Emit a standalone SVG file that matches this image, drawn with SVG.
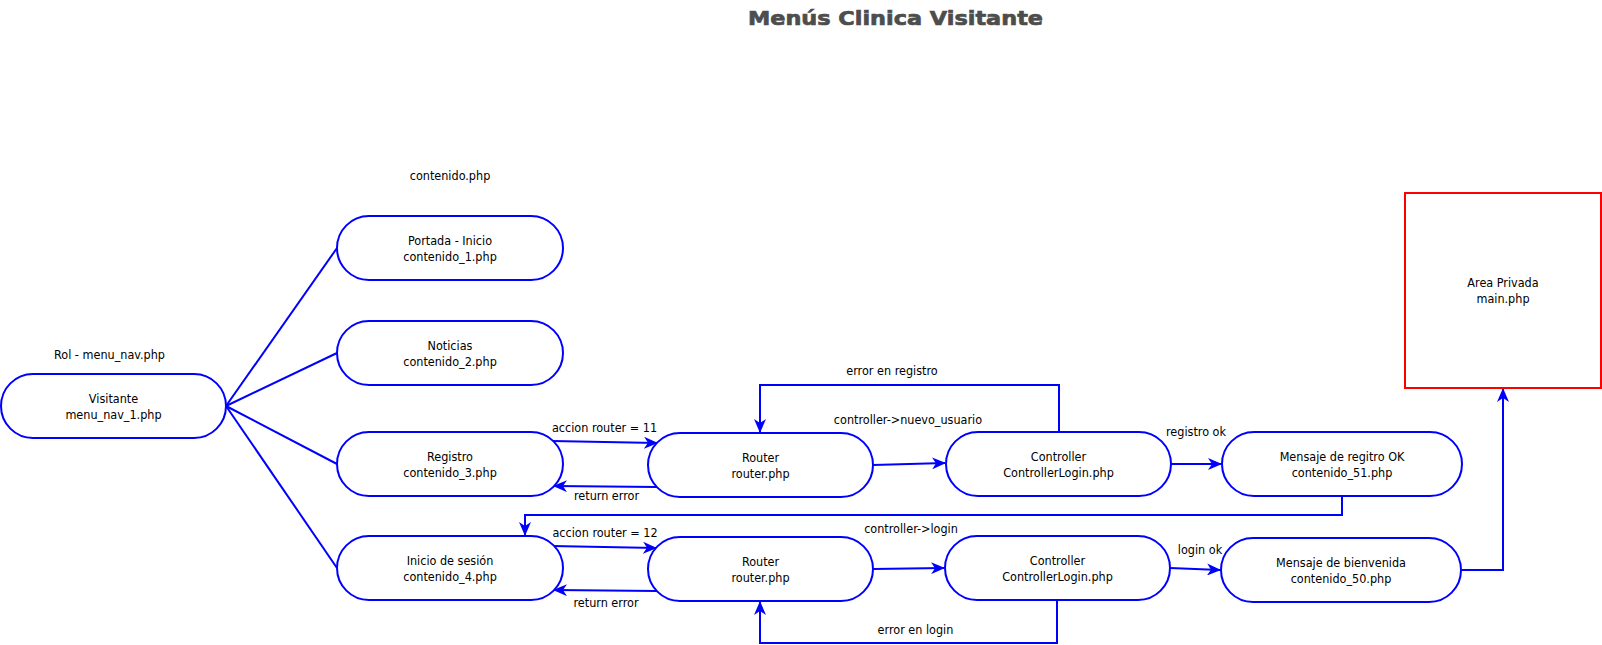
<svg xmlns="http://www.w3.org/2000/svg" width="1602" height="645" viewBox="0 0 1602 645">
<style>
.node{fill:#fff;stroke:#0000FF;stroke-width:2}
.area{fill:#fff;stroke:#FF0000;stroke-width:2}
.t{font-family:"DejaVu Sans Condensed","DejaVu Sans",sans-serif;font-size:12.5px;fill:#000;text-anchor:middle}
.c{fill:none;stroke:#0000FF;stroke-width:2}
.title{font-family:"DejaVu Sans",sans-serif;font-weight:bold;font-size:20px;fill:#4D4D4D;stroke:#4D4D4D;stroke-width:0.7;text-anchor:middle}
</style>
<defs>
<marker id="arr" markerUnits="userSpaceOnUse" markerWidth="14" markerHeight="12" refX="13" refY="6" orient="auto" viewBox="0 0 14 12">
<path d="M0,0 L14,6 L0,12 L4,6 z" fill="#0000FF"/>
</marker>
</defs>
<rect width="1602" height="645" fill="#fff"/>
<text class="title" x="895.5" y="25" textLength="295" lengthAdjust="spacingAndGlyphs">Menús Clinica Visitante</text>
<text class="t" x="450" y="180">contenido.php</text>
<text class="t" x="109.5" y="359">Rol - menu_nav.php</text>

<g id="connectors">
<path class="c" d="M226,406 L337,248"/>
<path class="c" d="M226,406 L337,353"/>
<path class="c" d="M226,406 L337,464"/>
<path class="c" d="M226,406 L337,568"/>
<path class="c" marker-end="url(#arr)" d="M552,441 L657,443"/>
<path class="c" marker-end="url(#arr)" d="M657,487 L554,486"/>
<path class="c" marker-end="url(#arr)" d="M873,465 L945,463"/>
<path class="c" marker-end="url(#arr)" d="M1059,432 L1059,385 L760,385 L760,432"/>
<path class="c" marker-end="url(#arr)" d="M1171,464 L1221,464"/>
<path class="c" marker-end="url(#arr)" d="M1342,496 L1342,515 L525,515 L525,535"/>
<path class="c" marker-end="url(#arr)" d="M552,546 L656,548"/>
<path class="c" marker-end="url(#arr)" d="M657,591 L554,590"/>
<path class="c" marker-end="url(#arr)" d="M873,569 L944,568"/>
<path class="c" marker-end="url(#arr)" d="M1057,600 L1057,643 L760,643 L760,602"/>
<path class="c" marker-end="url(#arr)" d="M1170,568 L1220,570"/>
<path class="c" marker-end="url(#arr)" d="M1461,570 L1503,570 L1503,389"/>
<text class="t" x="604.5" y="432">accion router = 11</text>
<text class="t" x="606.5" y="500">return error</text>
<text class="t" x="892" y="375">error en registro</text>
<text class="t" x="908" y="424">controller-&gt;nuevo_usuario</text>
<text class="t" x="1196" y="436">registro ok</text>
<text class="t" x="605" y="537">accion router = 12</text>
<text class="t" x="606" y="607">return error</text>
<text class="t" x="911" y="533">controller-&gt;login</text>
<text class="t" x="1200" y="554">login ok</text>
<text class="t" x="915.5" y="633.5">error en login</text>
</g>

<g id="visitante">
<rect class="node" x="1" y="374" width="225" height="64" rx="32"/>
<text class="t" x="113.5" y="403">Visitante</text>
<text class="t" x="113.5" y="419">menu_nav_1.php</text>
</g>
<g id="portada">
<rect class="node" x="337" y="216" width="226" height="64" rx="32"/>
<text class="t" x="450" y="245">Portada - Inicio</text>
<text class="t" x="450" y="261">contenido_1.php</text>
</g>
<g id="noticias">
<rect class="node" x="337" y="321" width="226" height="64" rx="32"/>
<text class="t" x="450" y="350">Noticias</text>
<text class="t" x="450" y="366">contenido_2.php</text>
</g>
<g id="registro">
<rect class="node" x="337" y="432" width="226" height="64" rx="32"/>
<text class="t" x="450" y="461">Registro</text>
<text class="t" x="450" y="477">contenido_3.php</text>
</g>
<g id="inicio">
<rect class="node" x="337" y="536" width="226" height="64" rx="32"/>
<text class="t" x="450" y="565">Inicio de sesión</text>
<text class="t" x="450" y="581">contenido_4.php</text>
</g>
<g id="router1">
<rect class="node" x="648" y="433" width="225" height="64" rx="32"/>
<text class="t" x="760.5" y="462">Router</text>
<text class="t" x="760.5" y="478">router.php</text>
</g>
<g id="controller1">
<rect class="node" x="946" y="432" width="225" height="64" rx="32"/>
<text class="t" x="1058.5" y="461">Controller</text>
<text class="t" x="1058.5" y="477">ControllerLogin.php</text>
</g>
<g id="mensaje-registro">
<rect class="node" x="1222" y="432" width="240" height="64" rx="32"/>
<text class="t" x="1342" y="461">Mensaje de regitro OK</text>
<text class="t" x="1342" y="477">contenido_51.php</text>
</g>
<g id="router2">
<rect class="node" x="648" y="537" width="225" height="64" rx="32"/>
<text class="t" x="760.5" y="566">Router</text>
<text class="t" x="760.5" y="582">router.php</text>
</g>
<g id="controller2">
<rect class="node" x="945" y="536" width="225" height="64" rx="32"/>
<text class="t" x="1057.5" y="565">Controller</text>
<text class="t" x="1057.5" y="581">ControllerLogin.php</text>
</g>
<g id="mensaje-bienvenida">
<rect class="node" x="1221" y="538" width="240" height="64" rx="32"/>
<text class="t" x="1341" y="567">Mensaje de bienvenida</text>
<text class="t" x="1341" y="583">contenido_50.php</text>
</g>
<g id="area-privada">
<rect class="area" x="1405" y="193" width="196" height="195"/>
<text class="t" x="1503" y="287">Area Privada</text>
<text class="t" x="1503" y="303">main.php</text>
</g>
</svg>
